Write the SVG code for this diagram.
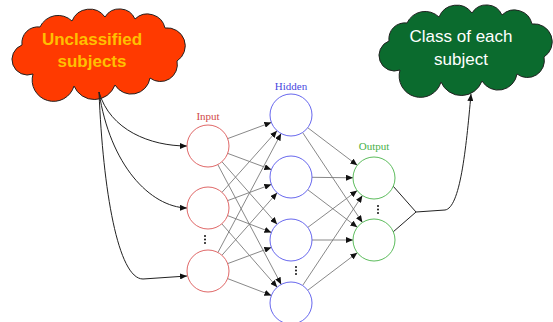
<svg xmlns="http://www.w3.org/2000/svg" width="553" height="322" viewBox="0 0 553 322">
<defs>
<marker id="ah" markerWidth="8" markerHeight="6" refX="7" refY="3" orient="auto" markerUnits="userSpaceOnUse">
<path d="M0,0 L7,3 L0,6 Z" fill="#111"/>
</marker>
<path id="cloud" d="M22,45 A16,16 0 0 1 40,27 A20,20 0 0 1 72,21 A19,19 0 0 1 105,17 A17,17 0 0 1 135,19 A18,18 0 0 1 165,28 A18,18 0 0 1 177,61 A17,17 0 0 1 150,78 A19,19 0 0 1 115,85 A22,22 0 0 1 74,86 A20,20 0 0 1 33,74 A15,15 0 0 1 22,45 Z"/>
</defs>
<style>
.cl{stroke:#222;stroke-width:1}
.ct{font-family:"Liberation Sans",Arial,sans-serif;font-size:17px;text-anchor:middle}
.lbl{font-family:"Liberation Serif","DejaVu Serif",serif;font-size:11px;text-anchor:middle}
.ni{fill:#fff;stroke:#e06868;stroke-width:1}
.nh{fill:#fff;stroke:#6868ee;stroke-width:1}
.no{fill:#fff;stroke:#5cbc5c;stroke-width:1}
.e{stroke:#7a7a7a;stroke-width:0.9;fill:none;marker-end:url(#ah)}
.d{stroke:#222;stroke-width:1;fill:none}
.dot{fill:#111}
</style>
<rect width="553" height="322" fill="#fff"/>
<g id="cloud-in">
<use href="#cloud" class="cl" fill="#ff3a00"/>
<text class="ct" x="92" y="45" fill="#ffc000" font-weight="bold" font-size="16">Unclassified</text>
<text class="ct" x="92" y="67" fill="#ffc000" font-weight="bold" font-size="16">subjects</text>
</g>
<g id="cloud-out">
<use href="#cloud" class="cl" fill="#0b6b2e" transform="translate(367,-4)"/>
<text class="ct" x="461" y="42" fill="#fff">Class of each</text>
<text class="ct" x="461" y="65" fill="#fff">subject</text>
</g>
<g id="connectors">
<path class="d" marker-end="url(#ah)" d="M99,92 C110,130 150,146 187,146"/>
<path class="d" marker-end="url(#ah)" d="M99,92 C110,165 150,207 187,208"/>
<path class="d" marker-end="url(#ah)" d="M99,92 C103,190 118,279 143,279 L187,276"/>
<path class="e" d="M227.7,138.6 L271.3,122.4"/>
<path class="e" d="M227.7,153.4 L271.3,169.6"/>
<path class="e" d="M221.9,161.7 L277.1,224.3"/>
<path class="e" d="M217.8,164.6 L281.2,284.4"/>
<path class="e" d="M222.0,192.3 L277.0,130.7"/>
<path class="e" d="M227.7,200.6 L271.3,184.4"/>
<path class="e" d="M227.6,215.6 L271.4,232.4"/>
<path class="e" d="M221.8,223.8 L277.2,287.2"/>
<path class="e" d="M217.9,252.5 L281.1,133.5"/>
<path class="e" d="M221.9,255.3 L277.1,192.8"/>
<path class="e" d="M227.7,263.6 L271.3,247.4"/>
<path class="e" d="M227.6,278.6 L271.4,295.4"/>
<path class="e" d="M307.7,127.7 L357.3,165.3"/>
<path class="e" d="M302.6,132.5 L362.4,222.5"/>
<path class="e" d="M312,177.3 L353,177.8"/>
<path class="e" d="M307.7,189.7 L357.3,227.3"/>
<path class="e" d="M307.8,227.4 L357.2,190.6"/>
<path class="e" d="M312,240 L353,240"/>
<path class="e" d="M302.6,285.5 L362.4,195.5"/>
<path class="e" d="M307.7,290.3 L357.3,252.7"/>
<path class="d" stroke="#444" d="M393,186 L416,212 L393,232"/>
<path class="d" marker-end="url(#ah)" d="M416,212 L445,210 C460,208 466,150 471,94"/>
</g>
<g id="input">
<text class="lbl" x="208" y="120" fill="#d04848">Input</text>
<circle id="i1" class="ni" cx="208" cy="146" r="21"/>
<circle id="i2" class="ni" cx="208" cy="208" r="21"/>
<circle id="i3" class="ni" cx="208" cy="271" r="21"/>
<circle class="dot" cx="205" cy="236" r="1"/><circle class="dot" cx="205" cy="239.5" r="1"/><circle class="dot" cx="205" cy="243" r="1"/>
</g>
<g id="hidden">
<text class="lbl" x="291" y="90" fill="#4848e0">Hidden</text>
<circle id="h1" class="nh" cx="291" cy="115" r="21"/>
<circle id="h2" class="nh" cx="291" cy="177" r="21"/>
<circle id="h3" class="nh" cx="291" cy="240" r="21"/>
<circle id="h4" class="nh" cx="291" cy="303" r="21"/>
<circle class="dot" cx="296" cy="267" r="1"/><circle class="dot" cx="296" cy="270.5" r="1"/><circle class="dot" cx="296" cy="274" r="1"/>
</g>
<g id="output">
<text class="lbl" x="374" y="150" fill="#48b048">Output</text>
<circle id="o1" class="no" cx="374" cy="178" r="21"/>
<circle id="o2" class="no" cx="374" cy="240" r="21"/>
<circle class="dot" cx="378" cy="206" r="1"/><circle class="dot" cx="378" cy="209.5" r="1"/><circle class="dot" cx="378" cy="213" r="1"/>
</g>
</svg>
